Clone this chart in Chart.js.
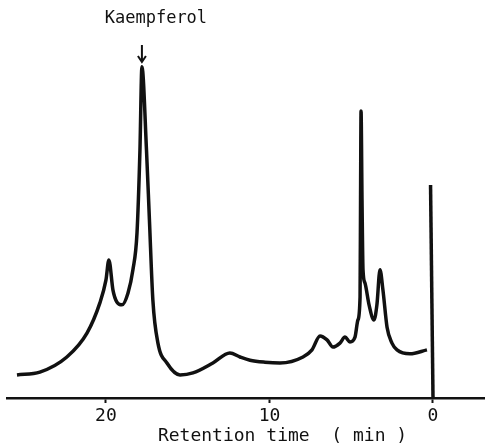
<!DOCTYPE html>
<html>
<head>
<meta charset="utf-8">
<script src="https://cdn.jsdelivr.net/npm/chart.js@4"></script>
<style>
    html, body { margin: 0; padding: 0; background: #fff; }
    #wrap { width: 485px; height: 446px; }
</style>
</head>
<body>
<div id="wrap"><canvas id="hplcChart"></canvas></div>
<script>
// =========================================
// Chromatogram data
// =========================================

const retentionTimes = [
    25.44, 24.04, 22.39, 21.16, 20.37, 20.0, 19.82, 19.57, 19.33, 19.02,
    18.65, 18.35, 18.10, 17.92, 17.80, 17.52, 17.34, 17.13, 16.82, 16.27,
    15.47, 14.68, 13.46, 12.42, 11.80, 11.19, 10.28, 9.36, 7.95, 7.40,
    6.91, 6.48, 6.12, 5.69, 5.38, 5.08, 4.77, 4.59, 4.46, 4.43,
    4.40, 4.34, 4.28, 4.16, 3.91, 3.61, 3.43, 3.24, 3.06, 2.81,
    2.51, 2.20, 1.41, 0.37
];

const detectorResponse = [
    5.8, 6.5, 10.3, 16.3, 23.9, 29.6, 34.7, 27.1, 24.1, 23.4,
    26.4, 32.2, 41.5, 62.3, 83.2, 62.3, 44.7, 24.6, 13.8, 8.8,
    5.8, 6.3, 8.8, 11.3, 10.3, 9.5, 9.0, 8.8, 10.3, 12.1,
    15.6, 14.6, 12.8, 13.8, 15.3, 14.1, 15.3, 19.6, 25.4, 49.7,
    72.1, 49.7, 32.2, 28.9, 23.4, 19.6, 23.4, 32.2, 27.1, 17.8,
    13.8, 12.1, 11.1, 12.1
];

// injection mark at time zero
const markerTimes = [0.15, 0];
const markerResponse = [53.5, 0];

const tickValues = [20, 10, 0];

const peakLabel = "Kaempferol";
const peakTime = 17.8;
const axisTitle = "Retention time  ( min )";


// =========================================
// Annotation plugin (peak label + axis title)
// =========================================

const annotations = {
    id: "annotations",
    afterDraw(chart) {
        const ctx = chart.ctx;
        const xs = chart.scales.x;
        const px = xs.getPixelForValue(peakTime);

        ctx.save();
        ctx.fillStyle = "#111";
        ctx.strokeStyle = "#111";
        ctx.font = "17px 'DejaVu Sans Mono'";
        ctx.textAlign = "center";
        ctx.textBaseline = "middle";
        ctx.fillText(peakLabel, px + 14, 19);

        // little down arrow
        ctx.lineWidth = 2;
        ctx.beginPath();
        ctx.moveTo(px, 45);
        ctx.lineTo(px, 62);
        ctx.moveTo(px - 4, 56);
        ctx.lineTo(px, 62);
        ctx.lineTo(px + 4, 56);
        ctx.stroke();

        ctx.font = "18px 'DejaVu Sans Mono'";
        ctx.fillText(axisTitle, xs.getPixelForValue(9.2), 436);
        ctx.restore();
    }
};


// =========================================
// Chart
// =========================================

const hplcCanvas =
    document.getElementById("hplcChart");

new Chart(hplcCanvas, {

    type: "line",

    data: {

        datasets: [{
            data: retentionTimes.map((t, i) => ({ x: t, y: detectorResponse[i] })),
            borderColor: "#111",
            borderWidth: 3.5,
            pointRadius: 0,
            cubicInterpolationMode: "monotone",
            fill: false
        }, {
            data: markerTimes.map((t, i) => ({ x: t, y: markerResponse[i] })),
            borderColor: "#111",
            borderWidth: 3.5,
            pointRadius: 0,
            fill: false
        }]
    },

    options: {

        responsive: true,
        maintainAspectRatio: false,
        animation: false,

        layout: {
            padding: { left: 7, right: 0, top: 0, bottom: 0 }
        },

        plugins: {
            legend: { display: false },
            tooltip: { enabled: false }
        },

        scales: {

            x: {
                type: "linear",
                reverse: true,
                min: -3.18,
                max: 26.05,
                afterBuildTicks: (s) => {
                    s.ticks = tickValues.map(v => ({ value: v }));
                },
                afterFit: (s) => { s.height = 48; },
                grid: {
                    drawOnChartArea: false,
                    color: "#111",
                    tickLength: 5,
                    tickWidth: 2
                },
                border: { color: "#111", width: 2.5 },
                ticks: {
                    color: "#111",
                    padding: 3,
                    autoSkip: false,
                    maxRotation: 0,
                    font: { family: "DejaVu Sans Mono", size: 18 }
                }
            },

            y: {
                display: false,
                min: 0,
                max: 100
            }
        }
    },

    plugins: [annotations]
});
</script>
</body>
</html>
